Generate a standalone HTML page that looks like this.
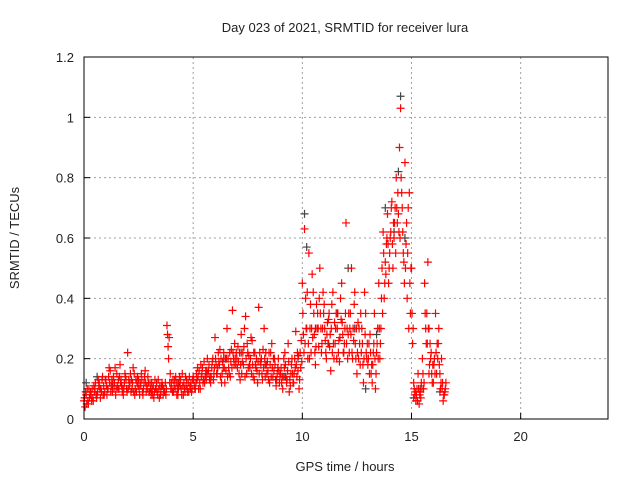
<!DOCTYPE html>
<html><head><meta charset="utf-8"><style>
body{margin:0;background:#fff;}
svg text{font-family:"Liberation Sans",sans-serif;font-size:13px;fill:#222;}
</style></head><body>
<svg id="chart" width="640" height="480" xmlns="http://www.w3.org/2000/svg">
<rect width="640" height="480" fill="#fff"/>
<g id="grid"></g>
<g id="axes"></g>
<g id="dark"></g>
<g id="red"></g>
<rect x="84" y="57" width="524" height="362" fill="none" stroke="#000" stroke-width="1"/>
<text x="345" y="32" text-anchor="middle">Day 023 of 2021, SRMTID for receiver lura</text>
<text x="345" y="471" text-anchor="middle">GPS time / hours</text>
<text x="19" y="238" text-anchor="middle" transform="rotate(-90 19 238)">SRMTID / TECUs</text>
</svg>
<script>
const xTicks=[0,5,10,15,20];
const yTicks=[0,0.2,0.4,0.6,0.8,1,1.2];
const yTickLabels=["0","0.2","0.4","0.6","0.8","1","1.2"];
const times=[0,0.1,0.2,0.3,0.4,0.5,0.6,0.7,0.8,0.9,1,1.1,1.2,1.3,1.4,1.5,1.6,1.7,1.8,1.9,2,2.1,2.2,2.3,2.4,2.5,2.6,2.7,2.8,2.9,3,3.1,3.2,3.3,3.4,3.5,3.6,3.7,3.8,3.9,4,4.1,4.2,4.3,4.4,4.5,4.6,4.7,4.8,4.9,5,5.1,5.2,5.3,5.4,5.5,5.6,5.7,5.8,5.9,6,6.1,6.2,6.3,6.4,6.5,6.6,6.7,6.8,6.9,7,7.1,7.2,7.3,7.4,7.5,7.6,7.7,7.8,7.9,8,8.1,8.2,8.3,8.4,8.5,8.6,8.7,8.8,8.9,9,9.1,9.2,9.3,9.4,9.5,9.6,9.7,9.8,9.9,10,10.1,10.2,10.3,10.4,10.5,10.6,10.7,10.8,10.9,11,11.1,11.2,11.3,11.4,11.5,11.6,11.7,11.8,11.9,12,12.1,12.2,12.3,12.4,12.5,12.6,12.7,12.8,12.9,13,13.1,13.2,13.3,13.4,13.5,13.6,13.7,13.8,13.9,14,14.1,14.2,14.3,14.4,14.5,14.6,14.7,14.8,14.9,15,15.1,15.2,15.3,15.4,15.5,15.6,15.7,15.8,15.9,16,16.1,16.2,16.3,16.4,16.5];
const redA=[0.06,0.08,0.05,0.09,0.07,0.1,0.08,0.12,0.09,0.11,
0.13,0.1,0.16,0.09,0.12,0.15,0.1,0.13,0.08,0.14,
0.22,0.12,0.1,0.15,0.09,0.13,0.11,0.08,0.16,0.1,
0.09,0.12,0.07,0.1,0.13,0.08,0.11,0.09,0.31,0.27,
0.12,0.09,0.14,0.08,0.11,0.15,0.1,0.13,0.09,0.12,
0.14,0.1,0.17,0.12,0.15,0.19,0.13,0.16,0.12,0.2,
0.27,0.15,0.18,0.12,0.22,0.16,0.2,0.14,0.36,0.25,
0.2,0.15,0.28,0.18,0.34,0.22,0.17,0.26,0.13,0.2,
0.37,0.18,0.23,0.14,0.19,0.12,0.25,0.16,0.11,0.2,
0.15,0.1,0.22,0.13,0.09,0.18,0.12,0.29,0.16,0.22,
0.45,0.63,0.3,0.55,0.22,0.42,0.18,0.35,0.5,0.25,
0.38,0.2,0.33,0.16,0.42,0.25,0.3,0.19,0.45,0.22,
0.65,0.28,0.35,0.2,0.42,0.15,0.3,0.22,0.12,0.35,
0.18,0.28,0.12,0.35,0.22,0.45,0.3,0.62,0.52,0.68,
0.55,0.72,0.6,0.8,0.68,1.03,0.62,0.85,0.4,0.75,
0.5,0.12,0.06,0.15,0.09,0.2,0.45,0.35,0.15,0.22,
0.12,0.35,0.2,0.15,0.1,0.08];
const redB=[0.04,0.1,0.07,0.06,0.11,0.08,0.13,0.07,0.14,0.09,
0.08,0.17,0.11,0.14,0.08,0.1,0.18,0.09,0.12,0.1,
0.13,0.09,0.17,0.1,0.14,0.08,0.13,0.12,0.09,0.12,
0.1,0.08,0.13,0.09,0.07,0.11,0.1,0.08,0.24,0.15,
0.09,0.13,0.08,0.12,0.1,0.08,0.14,0.09,0.11,0.1,
0.11,0.15,0.1,0.18,0.12,0.14,0.2,0.13,0.17,0.15,
0.18,0.22,0.14,0.19,0.12,0.3,0.15,0.23,0.2,0.18,
0.24,0.13,0.19,0.3,0.15,0.21,0.27,0.14,0.18,0.12,
0.22,0.15,0.3,0.18,0.13,0.22,0.14,0.18,0.15,0.12,
0.12,0.2,0.14,0.25,0.11,0.15,0.2,0.14,0.1,0.26,
0.28,0.4,0.2,0.3,0.48,0.28,0.38,0.24,0.3,0.42,
0.26,0.32,0.24,0.38,0.2,0.35,0.22,0.4,0.28,0.3,
0.3,0.22,0.5,0.26,0.2,0.32,0.18,0.25,0.42,0.2,
0.25,0.15,0.22,0.1,0.3,0.2,0.5,0.4,0.58,0.45,
0.62,0.5,0.7,0.65,0.9,0.75,0.52,0.58,0.7,0.35,
0.25,0.08,0.1,0.05,0.12,0.1,0.3,0.52,0.25,0.12,
0.2,0.15,0.3,0.12,0.06,0.1];
const redC=[0.07,0.05,0.1,0.08,0.06,0.12,0.09,0.1,0.13,0.08,
0.11,0.14,0.09,0.12,0.17,0.11,0.14,0.11,0.1,0.13,
0.1,0.15,0.12,0.08,0.12,0.1,0.15,0.1,0.12,0.14,
0.12,0.1,0.09,0.12,0.1,0.09,0.08,0.12,0.28,0.12,
0.1,0.11,0.12,0.1,0.13,0.11,0.09,0.1,0.14,0.09,
0.13,0.12,0.14,0.1,0.17,0.12,0.16,0.18,0.14,0.13,
0.2,0.17,0.23,0.15,0.17,0.2,0.17,0.19,0.22,0.2,
0.17,0.22,0.15,0.24,0.2,0.17,0.2,0.18,0.22,0.16,
0.15,0.2,0.17,0.22,0.16,0.18,0.17,0.2,0.13,0.16,
0.17,0.14,0.18,0.16,0.13,0.2,0.15,0.18,0.21,0.17,
0.35,0.25,0.42,0.2,0.3,0.35,0.24,0.3,0.35,0.3,
0.3,0.28,0.35,0.3,0.25,0.3,0.35,0.27,0.32,0.25,
0.25,0.35,0.28,0.3,0.25,0.22,0.25,0.3,0.2,0.22,
0.2,0.22,0.18,0.2,0.25,0.3,0.4,0.55,0.48,0.58,
0.6,0.58,0.65,0.7,0.62,0.8,0.55,0.5,0.55,0.45,
0.35,0.1,0.08,0.1,0.07,0.15,0.35,0.25,0.18,0.15,
0.18,0.22,0.25,0.1,0.12,0.09];
const redD=[0.09,0.06,0.08,0.1,0.09,0.07,0.11,0.1,0.08,0.13,
0.1,0.12,0.13,0.1,0.1,0.13,0.12,0.1,0.15,0.09,
0.11,0.13,0.09,0.13,0.11,0.12,0.09,0.14,0.11,0.09,
0.08,0.11,0.1,0.08,0.11,0.12,0.09,0.1,0.2,0.1,
0.13,0.1,0.1,0.14,0.08,0.12,0.11,0.12,0.1,0.13,
0.1,0.13,0.16,0.14,0.13,0.16,0.15,0.14,0.19,0.17,
0.15,0.19,0.2,0.17,0.2,0.14,0.22,0.17,0.18,0.22,
0.19,0.18,0.22,0.14,0.25,0.18,0.15,0.22,0.17,0.19,
0.19,0.13,0.2,0.15,0.22,0.14,0.2,0.13,0.17,0.14,
0.14,0.17,0.12,0.19,0.15,0.12,0.17,0.22,0.13,0.19,
0.22,0.3,0.25,0.38,0.27,0.22,0.3,0.4,0.22,0.35,
0.22,0.25,0.28,0.22,0.32,0.2,0.26,0.33,0.22,0.35,
0.2,0.3,0.22,0.38,0.3,0.2,0.35,0.18,0.28,0.25,
0.15,0.18,0.25,0.15,0.2,0.25,0.35,0.45,0.6,0.5,
0.7,0.65,0.55,0.75,0.6,0.7,0.45,0.65,0.3,0.5,
0.3,0.09,0.06,0.08,0.1,0.12,0.25,0.3,0.2,0.18,
0.15,0.25,0.18,0.2,0.08,0.12];
const darkT=[0.1,0.6,1.3,2.2,3.1,4.3,5.6,6.4,7.2,8.3,9.2,9.8,10.1,10.2,10.6,11.2,11.6,12.1,12.4,12.9,13.4,13.8,14.2,14.4,14.5,14.7,15.1,15.4,15.8,16.3];
const darkV=[0.12,0.14,0.11,0.1,0.09,0.12,0.15,0.2,0.22,0.18,0.14,0.2,0.68,0.57,0.3,0.25,0.35,0.5,0.3,0.1,0.28,0.7,0.62,0.82,1.07,0.6,0.07,0.1,0.3,0.09];
const sx=t=>84+t/24*524;
const sy=v=>419-v/1.2*362;
const NS="http://www.w3.org/2000/svg";
const grid=document.getElementById('grid'),axes=document.getElementById('axes');
function mk(tag,attrs,parent){const e=document.createElementNS(NS,tag);for(const k in attrs)e.setAttribute(k,attrs[k]);parent.appendChild(e);return e;}
xTicks.forEach(t=>{
 const x=sx(t);
 if(t>0){const g=mk('line',{x1:x,x2:x,y1:57,y2:419,stroke:'#a0a0a0','stroke-dasharray':'2,3'},grid);
 
 }
 const tk=mk('line',{x1:x,x2:x,y1:419,y2:413,stroke:'#000'},axes);
 
 
 const lb=mk('text',{x:x,y:441,'text-anchor':'middle'},axes);lb.textContent=t;
 
 
});
yTicks.forEach((v,i)=>{
 const y=sy(v);
 if(v>0&&v<1.2){const g=mk('line',{x1:84,x2:608,y1:y,y2:y,stroke:'#a0a0a0','stroke-dasharray':'2,3'},grid);
 
 }
 const tk=mk('line',{x1:84,x2:90,y1:y,y2:y,stroke:'#000'},axes);
 
 
 const lb=mk('text',{x:74,y:y+5,'text-anchor':'end'},axes);lb.textContent=yTickLabels[i];
 
 
});
function plus(g,t,v,c){
 const x=sx(t),y=sy(v);
 const p=mk('path',{d:`M${x-4} ${y}H${x+4}M${x} ${y-4}V${y+4}`,stroke:c,'stroke-width':1.2,fill:'none'},g);
 
 
}
const dg=document.getElementById('dark'),rg=document.getElementById('red');
darkT.forEach((t,i)=>plus(dg,t,darkV[i],'#444'));
times.forEach((t,i)=>{
 plus(rg,t,redA[i],'#ff0000');
 plus(rg,t+0.025,redC[i],'#ff0000');
 plus(rg,t+0.05,redB[i],'#ff0000');
 plus(rg,t+0.075,redD[i],'#ff0000');
});
</script>
</body></html>
